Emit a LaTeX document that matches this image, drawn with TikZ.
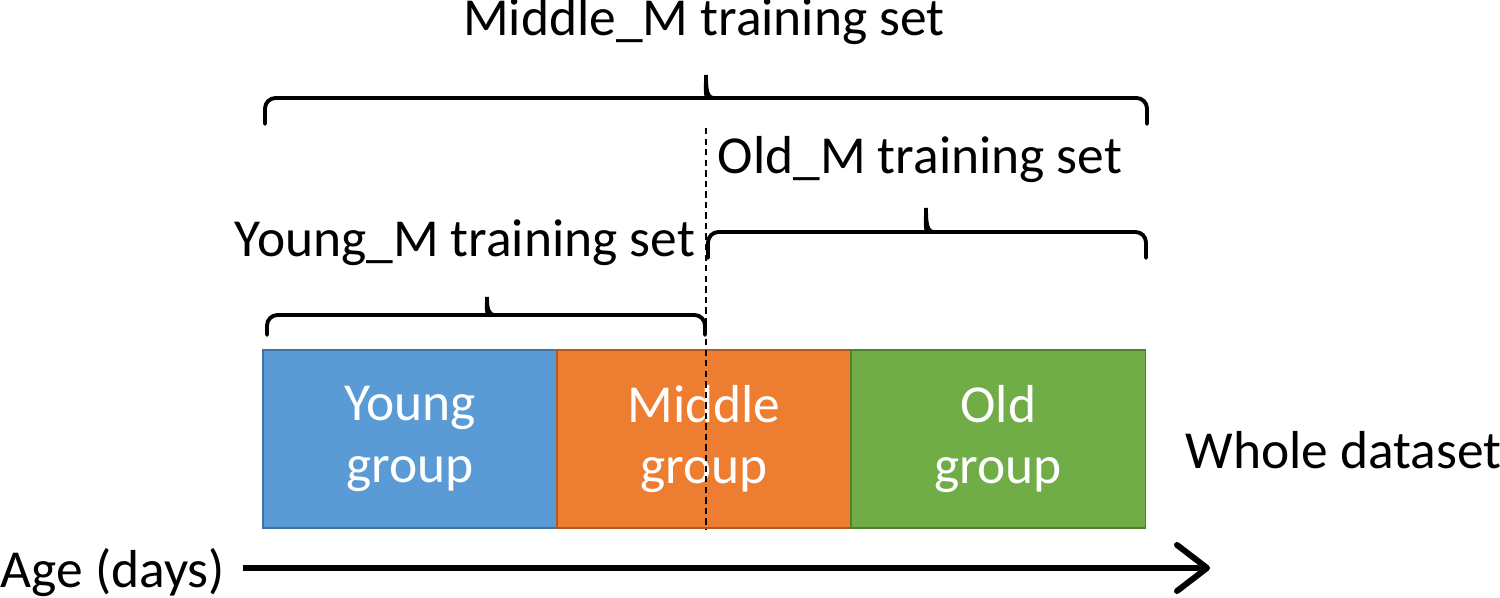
\documentclass[tikz,border=0pt]{standalone}
\usepackage{fontspec}
\setmainfont{Carlito}
\usetikzlibrary{positioning,arrows.meta}
\definecolor{youngfill}{HTML}{5B9BD5}
\definecolor{youngline}{HTML}{41719C}
\definecolor{middlefill}{HTML}{ED7D31}
\definecolor{middleline}{HTML}{AE5A21}
\definecolor{oldfill}{HTML}{70AD47}
\definecolor{oldline}{HTML}{507E32}

\begin{document}
\begin{tikzpicture}[x=0.01cm, y=-0.01cm,
  grp/.style={draw, line width=0.5pt, minimum width=2.94cm, minimum height=1.78cm,
              inner sep=0pt, outer sep=0pt, text=white, align=center,
              font=\fontsize{15.2}{17.6}\selectfont},
  lbl/.style={inner sep=0pt, font=\fontsize{15.2}{17.6}\selectfont},
  brk/.style={line width=1.1pt, line cap=round},
  arr/.style={-{Straight Barb[length=3mm, width=4.6mm, line cap=round, line join=round]},
              line width=1.7pt}]
\useasboundingbox (0,0) rectangle (1500,598);
% age groups
\node[grp, fill=youngfill, draw=youngline] (young) at (410,439) {Young\\group};
\node[grp, fill=middlefill, draw=middleline, right=0pt of young] (middle) {Middle\\group};
\node[grp, fill=oldfill, draw=oldline, right=0pt of middle] (old) {Old\\group};
\node[lbl, anchor=west] (whole) at (1185,450) {Whole dataset};
% split between young and old models
\draw[line width=0.8pt, dash pattern=on 1.8pt off 1.2pt] (706,128) -- (706,530);
% training sets
\draw[brk] (265,124) [rounded corners=3pt] -- (265,98) -- (698,98) [sharp corners]
  .. controls (705,98) and (706,90) .. (706,75)
  .. controls (706,90) and (707,98) .. (714,98) [rounded corners=3pt]
  -- (1147,98) -- (1147,124);
\node[lbl] (midset) at (704,22) {Middle\_M training set};
\draw[brk] (708,258) [rounded corners=3pt] -- (708,232) -- (918,232) [sharp corners]
  .. controls (925,232) and (926,224) .. (926,208)
  .. controls (926,224) and (927,232) .. (934,232) [rounded corners=3pt]
  -- (1146,232) -- (1146,258);
\node[lbl] (oldset) at (920,160) {Old\_M training set};
\draw[brk] (267,335) [rounded corners=3pt] -- (267,315) -- (479,315) [sharp corners]
  .. controls (486,315) and (487,308) .. (487,297)
  .. controls (487,308) and (488,315) .. (495,315) [rounded corners=3pt]
  -- (705,315) -- (705,335);
\node[lbl] (youngset) at (465,243) {Young\_M training set};
% time axis
\node[lbl, anchor=west] (age) at (0,573) {Age (days)};
\coordinate (axisend) at (1210,568);
\draw[arr] (243,568) -- (axisend);
\end{tikzpicture}
\end{document}
